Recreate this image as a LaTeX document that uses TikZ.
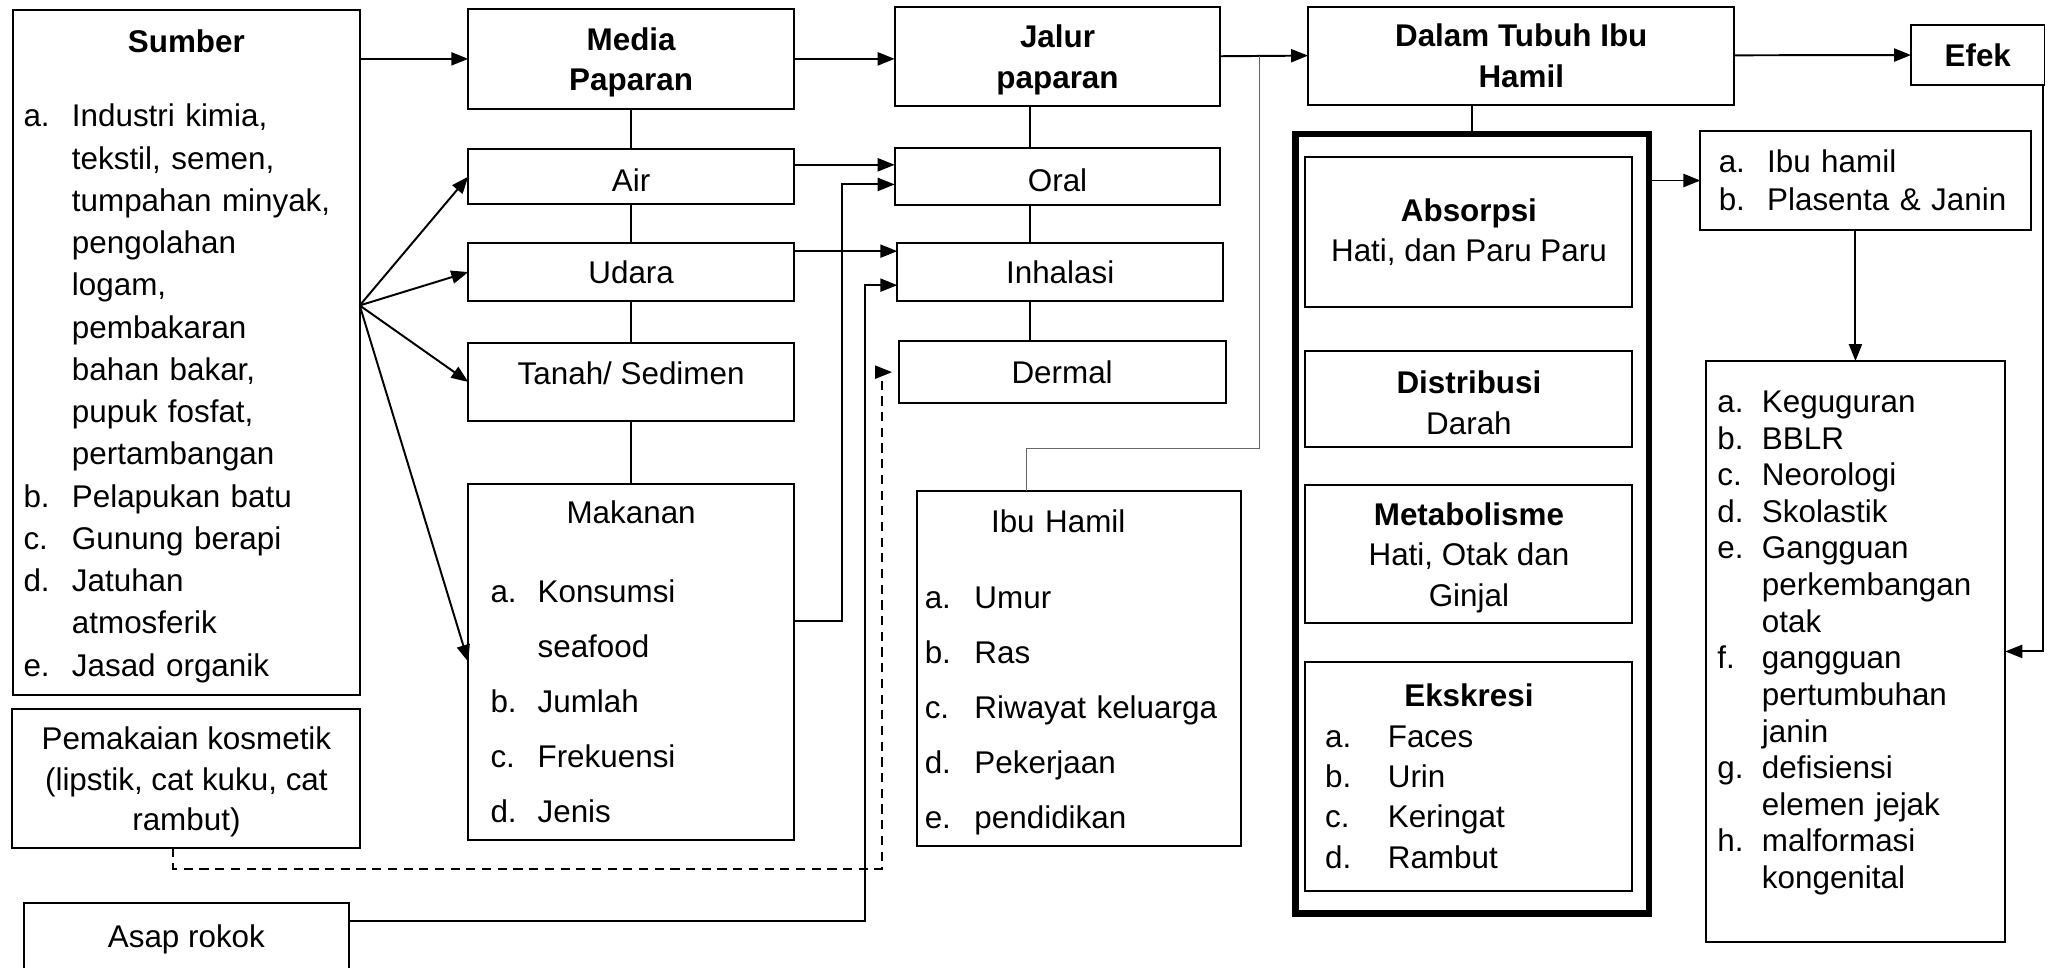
\documentclass[tikz,border=0pt]{standalone}
\usepackage{fontspec}
\setmainfont{Liberation Sans}
\usetikzlibrary{positioning, arrows.meta, fit, calc}

% label column for the lettered lists
\newcommand{\lbl}[2][37pt]{\makebox[#1][l]{#2}}
% taller first line, drops the text a little
\newcommand{\lift}{\rule{0pt}{23pt}}

\begin{document}
\begin{tikzpicture}[
    x=1pt, y=-1pt,
    % Node styles
    box/.style={
        rectangle,
        draw,
        line width=1.5pt,
        inner sep=0pt,
        outer sep=0pt,
        align=center,
        font=\fontsize{24}{31}\selectfont
    },
    colbox/.style={
        box,
        minimum width=249pt
    },
    head/.style={
        box,
        font=\fontsize{24}{31}\selectfont\bfseries
    },
    listbox/.style={
        box,
        align=left,
        text width=#1
    },
    frame/.style={
        draw,
        line width=5pt,
        inner xsep=10pt,
        inner ysep=17.5pt
    },
    link/.style={
        line width=1.5pt
    },
    arrow/.style={
        ->,
        >={Triangle[length=13pt, width=10pt]},
        line width=1.5pt
    },
    dashedarrow/.style={
        arrow,
        dash pattern=on 7pt off 5pt
    },
    thinline/.style={
        draw=black!60,
        line width=0.8pt
    }
]
    \useasboundingbox (0,0) rectangle (1568,740);

    % ==== SUMBER ====
    \node[listbox=249pt, minimum width=265pt, minimum height=523pt, anchor=north west, font=\fontsize{24}{32.3}\selectfont] (sumber) at (10,8) {\lift\makebox[\linewidth]{\bfseries Sumber}\\[24.7pt]\lbl{a.}Industri kimia,\\\lbl{}tekstil, semen,\\\lbl{}tumpahan minyak,\\\lbl{}pengolahan\\\lbl{}logam,\\\lbl{}pembakaran\\\lbl{}bahan bakar,\\\lbl{}pupuk fosfat,\\\lbl{}pertambangan\\\lbl{b.}Pelapukan batu\\\lbl{c.}Gunung berapi\\\lbl{d.}Jatuhan\\\lbl{}atmosferik\\\lbl{e.}Jasad organik};
    \node[box, minimum width=266pt, minimum height=106pt, below=11pt of sumber] (kosmetik) {\lift Pemakaian kosmetik\\(lipstik, cat kuku, cat\\rambut)};
    \node[colbox, minimum height=64pt, below=42pt of kosmetik] (asap) {\lift Asap rokok\\[-12pt]\mbox{}};

    % ==== MEDIA PAPARAN ====
    \node[head, minimum width=249pt, minimum height=76pt, anchor=north west] (media) at (358,7) {\lift Media\\Paparan};
    \node[colbox, minimum height=42pt, below=31pt of media] (air) {\lift Air};
    \node[colbox, minimum height=44pt, below=30pt of air] (udara) {Udara};
    \node[colbox, minimum height=60pt, below=32pt of udara] (tanah) {\lift Tanah/ Sedimen\\[-12pt]\mbox{}};
    \node[listbox=215pt, minimum width=249pt, minimum height=272pt, below=48pt of tanah, font=\fontsize{24}{42}\selectfont] (makanan) {\makebox[\linewidth]{Makanan}\\[18pt]\lbl[36pt]{a.}Konsumsi\\\lbl[36pt]{}seafood\\\lbl[36pt]{b.}Jumlah\\\lbl[36pt]{c.}Frekuensi\\\lbl[36pt]{d.}Jenis};

    % ==== JALUR PAPARAN ====
    \node[head, minimum width=249pt, minimum height=76pt, anchor=north west] (jalur) at (684,5) {\lift Jalur\\paparan};
    \node[colbox, minimum height=44pt, below=32pt of jalur] (oral) {\lift Oral};
    \node[colbox, minimum height=44pt, below=29pt of oral, xshift=2pt] (inhal) {Inhalasi};
    \node[colbox, minimum width=250pt, minimum height=47pt, below=31pt of inhal, xshift=1.5pt] (dermal) {Dermal};
    \node[listbox=236pt, minimum width=248pt, minimum height=272pt, below=67pt of dermal, xshift=13pt, font=\fontsize{24}{42}\selectfont] (ibuhamil) {\lift\makebox[\linewidth]{Ibu Hamil\hspace{32pt}}\\[16pt]\lbl[38pt]{a.}Umur\\\lbl[38pt]{b.}Ras\\\lbl[38pt]{c.}Riwayat keluarga\\\lbl[38pt]{d.}Pekerjaan\\\lbl[38pt]{e.}pendidikan};

    % ==== DALAM TUBUH IBU HAMIL ====
    \node[head, minimum width=326pt, minimum height=75pt, anchor=north west] (dalam) at (1000,5) {Dalam Tubuh Ibu\\Hamil};
    \node[box, minimum width=250pt, minimum height=115pt, anchor=north west] (absorpsi) at (998,120) {\textbf{Absorpsi}\\Hati, dan Paru Paru};
    \node[box, minimum width=250pt, minimum height=74pt, below=33pt of absorpsi] (distribusi) {\lift\textbf{Distribusi}\\Darah};
    \node[box, minimum width=250pt, minimum height=105pt, below=29pt of distribusi] (metabolisme) {\lift\textbf{Metabolisme}\\Hati, Otak dan\\Ginjal};
    \node[listbox=220pt, minimum width=250pt, minimum height=175pt, below=30pt of metabolisme, font=\fontsize{24}{30.8}\selectfont] (ekskresi) {\makebox[\linewidth]{\bfseries Ekskresi}\\\lbl[48pt]{a.}Faces\\\lbl[48pt]{b.}Urin\\\lbl[48pt]{c.}Keringat\\\lbl[48pt]{d.}Rambut};
    \node[frame, xshift=2.5pt, fit=(absorpsi)(ekskresi)] (tubuh) {};

    % ==== EFEK ====
    \node[head, minimum width=102pt, minimum height=46pt, anchor=north west] (efek) at (1461,19) {Efek};
    \node[listbox=225pt, minimum width=253pt, minimum height=76pt, anchor=north west, font=\fontsize{24}{29}\selectfont] (janin) at (1300,100) {\lbl{a.}Ibu hamil\\\lbl{b.}Plasenta \& Janin};
    \node[listbox=211pt, minimum width=229pt, minimum height=444pt, anchor=north west, font=\fontsize{24}{28}\selectfont] (dampak) at (1304,276) {\lbl[34pt]{a.}Keguguran\\\lbl[34pt]{b.}BBLR\\\lbl[34pt]{c.}Neorologi\\\lbl[34pt]{d.}Skolastik\\\lbl[34pt]{e.}Gangguan\\\lbl[34pt]{}perkembangan\\\lbl[34pt]{}otak\\\lbl[34pt]{f.}gangguan\\\lbl[34pt]{}pertumbuhan\\\lbl[34pt]{}janin\\\lbl[34pt]{g.}defisiensi\\\lbl[34pt]{}elemen jejak\\\lbl[34pt]{h.}malformasi\\\lbl[34pt]{}kongenital\\[-10pt]\mbox{}};

    % ==== CONNECTIONS ====

    % Sumber -> Media
    \draw[arrow] (sumber.east |- media.west) -- (media.west);
    \coordinate (fan) at ([yshift=36pt]sumber.east);
    \draw[arrow] (fan) -- (air.west);
    \draw[arrow] (fan) -- (udara.west);
    \draw[arrow] (fan) -- (tanah.west);
    \draw[arrow] (fan) -- (makanan.west);

    % Media column
    \draw[link] (media) -- (air);
    \draw[link] (air) -- (udara);
    \draw[link] (udara) -- (tanah);
    \draw[link] (tanah) -- (makanan);

    % Media -> Jalur
    \draw[arrow] (media.east) -- (media.east -| jalur.west);
    \draw[arrow] ([yshift=9pt]air.east) -- ([yshift=9pt]air.east -| oral.west);
    \draw[arrow] ([yshift=16pt]udara.east) -- ([yshift=16pt]udara.east -| inhal.west);
    \draw[arrow] ([yshift=31pt]makanan.east) -- ++(37,0) |- ([yshift=-6pt]oral.west);
    \draw[arrow] ([yshift=18pt]asap.east) -- ++(394,0) |- ([yshift=-10pt]inhal.west);
    \draw[dashedarrow, shorten >=5pt] ([xshift=-10pt]kosmetik.south) -- ++(0,16) -- ++(542,0) |- (dermal.west);

    % Jalur column
    \draw[link] ([xshift=-21pt]jalur.south) -- ([xshift=-21pt]jalur.south |- oral.north);
    \draw[link] ([xshift=-21pt]oral.south) -- ([xshift=-21pt]oral.south |- inhal.north);
    \draw[link] ([xshift=-21pt]oral.south |- inhal.south) -- ([xshift=-21pt]oral.south |- dermal.north);

    % Jalur -> Dalam
    \draw[arrow] (jalur.east) -- (dalam.west);
    \coordinate (jn) at ($(jalur.east)!0.448!(dalam.west)$);
    \draw[thinline] ([xshift=-40pt]ibuhamil.north) -- ++(0,-32) -| (jn);

    % Dalam -> Efek
    \draw[link] (tubuh.north |- dalam.south) -- (tubuh.north);
    \draw[arrow] (dalam) -- (efek);
    \draw[arrow] (tubuh.east |- janin.west) -- (janin.west);
    \draw[arrow] (janin.south -| dampak.north) -- (dampak.north);
    \draw[arrow] ([xshift=-1pt]efek.south east) |- (dampak.east);

\end{tikzpicture}
\end{document}
